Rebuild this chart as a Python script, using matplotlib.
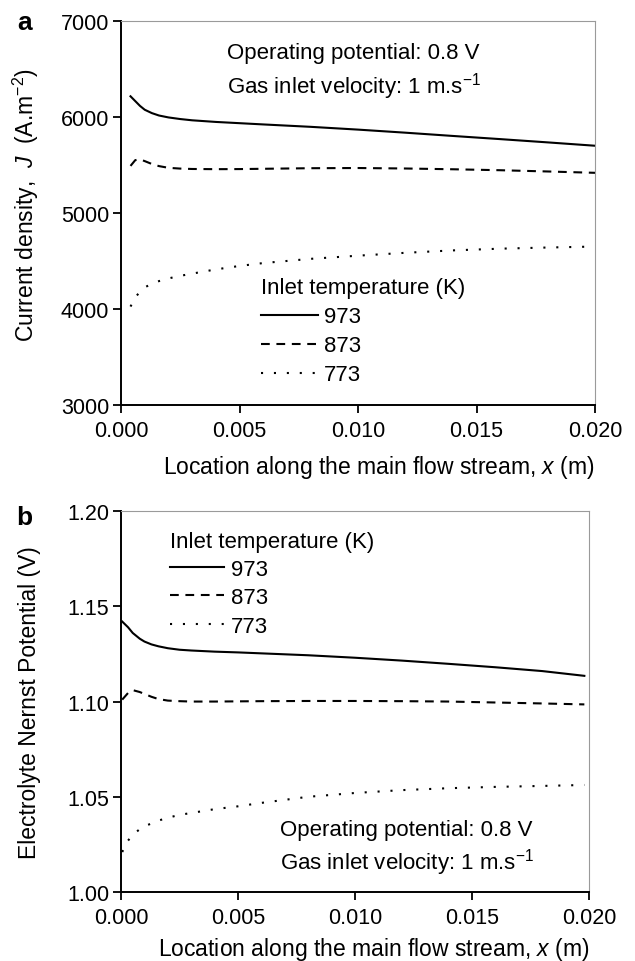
import numpy as np
import matplotlib
matplotlib.use('Agg')
import matplotlib.pyplot as plt

plt.rcParams['font.family'] = ['Liberation Sans', 'DejaVu Sans']
plt.rcParams['mathtext.fontset'] = 'custom'
plt.rcParams['mathtext.rm'] = 'Liberation Sans'
plt.rcParams['mathtext.it'] = 'Liberation Sans:italic'
plt.rcParams['font.size'] = 16

# panel a: current density along the channel
xa = [0.0004, 0.0006, 0.0008, 0.001, 0.0013, 0.0016, 0.002, 0.0025, 0.003, 0.004,
      0.005, 0.006, 0.008, 0.010, 0.012, 0.014, 0.016, 0.018, 0.020]
j973 = [6215, 6165, 6115, 6075, 6040, 6015, 5995, 5978, 5965, 5948,
        5935, 5922, 5897, 5868, 5836, 5802, 5769, 5735, 5700]
j873 = [5490, 5550, 5558, 5540, 5510, 5488, 5470, 5462, 5458, 5456,
        5457, 5460, 5466, 5468, 5463, 5455, 5445, 5432, 5418]
j773 = [4025, 4120, 4180, 4225, 4262, 4290, 4318, 4345, 4368, 4412,
        4448, 4478, 4522, 4555, 4585, 4610, 4628, 4640, 4650]

# panel b: electrolyte Nernst potential
xb = [0.00005, 0.0003, 0.0005, 0.0008, 0.001, 0.0013, 0.0016, 0.002, 0.0025, 0.003,
      0.004, 0.005, 0.006, 0.008, 0.010, 0.012, 0.014, 0.016, 0.018, 0.0198]
e973 = [1.1420, 1.1390, 1.1360, 1.1330, 1.1315, 1.1300, 1.1290, 1.1280, 1.1272, 1.1268,
        1.1262, 1.1258, 1.1253, 1.1243, 1.1230, 1.1215, 1.1198, 1.1180, 1.1160, 1.1135]
e873 = [1.1010, 1.1045, 1.1060, 1.1050, 1.1040, 1.1025, 1.1013, 1.1005, 1.1002, 1.1000,
        1.1000, 1.1001, 1.1002, 1.1003, 1.1003, 1.1002, 1.1000, 1.0995, 1.0990, 1.0985]
e773 = [1.0210, 1.0270, 1.0300, 1.0330, 1.0345, 1.0360, 1.0375, 1.0390, 1.0405, 1.0415,
        1.0435, 1.0450, 1.0468, 1.0500, 1.0520, 1.0535, 1.0545, 1.0552, 1.0557, 1.0562]

temps = ['973', '873', '773']
styles = ['-', (0, (4.2, 3.2)), (0, (1, 5.2))]
xticks = [0.0, 0.005, 0.010, 0.015, 0.020]
xlabel = 'Location along the main flow stream, $\\it{x}$ (m)'

fig = plt.figure(figsize=(6.35, 9.62), dpi=100)
ax1 = fig.add_axes([0.1906, 0.578, 0.7465, 0.3992])
ax2 = fig.add_axes([0.1906, 0.0717, 0.737, 0.396])


def style_axes(ax):
    for s in ['top', 'right']:
        ax.spines[s].set_color('#9a9a9a')
        ax.spines[s].set_linewidth(0.8)
    for s in ['left', 'bottom']:
        ax.spines[s].set_color('black')
        ax.spines[s].set_linewidth(1.4)
    ax.tick_params(direction='out', length=5.5, width=1.3, top=False, right=False,
                   labelsize=15.5)
    ax.tick_params(axis='x', pad=5.5)
    ax.tick_params(axis='y', pad=3)
    ax.set_xlim(0, 0.02)
    ax.set_xticks(xticks)
    ax.set_xticklabels(['%.3f' % t for t in xticks])


for y, ls, t in zip([j973, j873, j773], styles, temps):
    ax1.plot(xa, y, color='black', linestyle=ls, lw=1.5, label=t)
style_axes(ax1)
ax1.set_ylim(3000, 7000)
ax1.set_yticks([3000, 4000, 5000, 6000, 7000])
ax1.set_xlabel(xlabel, fontsize=16.5)
ax1.xaxis.set_label_coords(0.544, -0.124)
ax1.set_ylabel('Current density,  $\\it{J}$  (A.m$^{-2}$)', fontsize=16.5)
ax1.yaxis.set_label_coords(-0.169, 0.523)
ax1.text(0.2236, 0.919, 'Operating potential: 0.8 V', transform=ax1.transAxes, va='center')
ax1.text(0.2236, 0.833, 'Gas inlet velocity: 1 m.s$^{-1}$', transform=ax1.transAxes, va='center')
leg1 = ax1.legend(title='Inlet temperature (K)', loc='upper left', bbox_to_anchor=(0.295, 0.332),
                  frameon=False, alignment='left', handlelength=2.57, handletextpad=0.25,
                  labelspacing=0.36, borderpad=0, borderaxespad=0, fontsize=16)
leg1.get_title().set_fontsize(16)

for y, ls, t in zip([e973, e873, e773], styles, temps):
    ax2.plot(xb, y, color='black', linestyle=ls, lw=1.5, label=t)
style_axes(ax2)
ax2.set_ylim(1.0, 1.2)
ax2.set_yticks([1.00, 1.05, 1.10, 1.15, 1.20])
ax2.set_yticklabels(['1.00', '1.05', '1.10', '1.15', '1.20'])
ax2.set_xlabel(xlabel, fontsize=16.5)
ax2.xaxis.set_label_coords(0.54, -0.113)
ax2.set_ylabel('Electrolyte Nernst Potential (V)', fontsize=16.5)
ax2.yaxis.set_label_coords(-0.171, 0.5)
ax2.text(0.34, 0.165, 'Operating potential: 0.8 V', transform=ax2.transAxes, va='center')
ax2.text(0.34, 0.079, 'Gas inlet velocity: 1 m.s$^{-1}$', transform=ax2.transAxes, va='center')
leg2 = ax2.legend(title='Inlet temperature (K)', loc='upper left', bbox_to_anchor=(0.105, 0.949),
                  frameon=False, alignment='left', handlelength=2.4, handletextpad=0.35,
                  labelspacing=0.33, borderpad=0, borderaxespad=0, fontsize=16)
leg2.get_title().set_fontsize(16)

fig.text(0.039, 0.9688, 'a', fontsize=19, fontweight='bold', va='baseline', ha='center')
fig.text(0.039, 0.4543, 'b', fontsize=19, fontweight='bold', va='baseline', ha='center')

fig.savefig('out.png', dpi=100)
